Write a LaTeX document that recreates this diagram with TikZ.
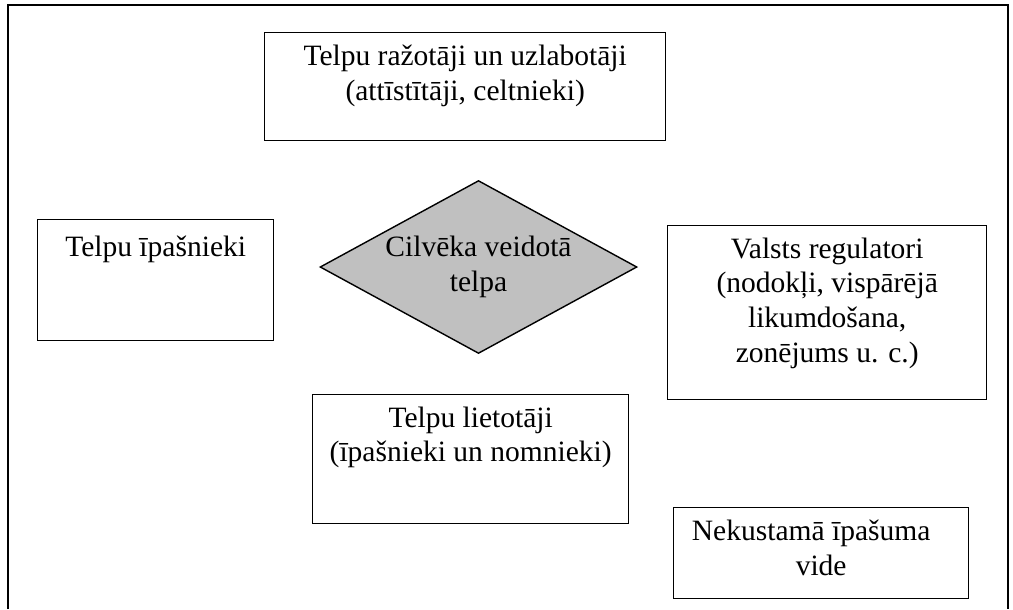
\documentclass[tikz,border=0pt]{standalone}
\usepackage{fontspec}
\setmainfont{Liberation Serif}
\usetikzlibrary{shapes.geometric}
\definecolor{shade}{RGB}{192,192,192}

\begin{document}
\begin{tikzpicture}[x=0.02cm, y=-0.02cm, line width=0.8pt,
  font=\fontsize{16.8}{19.8}\selectfont,
  box/.style = {draw, anchor=north west, inner sep=0},
  txt/.style = {anchor=north, align=center, inner sep=0, yshift=-0.24cm, execute at begin node=\strut},
  hub/.style = {draw, diamond, aspect=1.83, fill=shade, align=center, inner sep=0}]
\useasboundingbox (0,0) rectangle (1013,609);
% frame, open at the bottom
\draw (8,609) -- (8,5) -- (1008,5) -- (1008,609);
% boxes
\node[box, minimum width=8.02cm, minimum height=2.16cm] (prod) at (264,32) {};
\node[box, minimum width=4.72cm, minimum height=2.42cm] (own) at (37,219) {};
\node[box, minimum width=6.38cm, minimum height=3.48cm] (reg) at (667,225) {};
\node[box, minimum width=6.32cm, minimum height=2.58cm] (user) at (312,394) {};
\node[box, minimum width=5.90cm, minimum height=1.82cm] (env) at (673,507) {};
\node[hub, minimum width=6.34cm, minimum height=3.46cm] (space) at (478.5,267) {Cilvēka veidotā\\telpa};
% texts
\node[txt] (prodtxt) at (prod.north) {Telpu ražotāji un uzlabotāji\\(attīstītāji, celtnieki)};
\node[txt] (owntxt) at (own.north) {Telpu īpašnieki};
\node[txt] (regtxt) at (reg.north) {Valsts regulatori\\(nodokļi, vispārējā\\likumdošana,\\zonējums u. c.)};
\node[txt] (usertxt) at (user.north) {Telpu lietotāji\\(īpašnieki un nomnieki)};
\node[txt] (envtxt) at (env.north) {Nekustamā īpašuma\kern0.4cm\\vide};
\end{tikzpicture}
\end{document}
